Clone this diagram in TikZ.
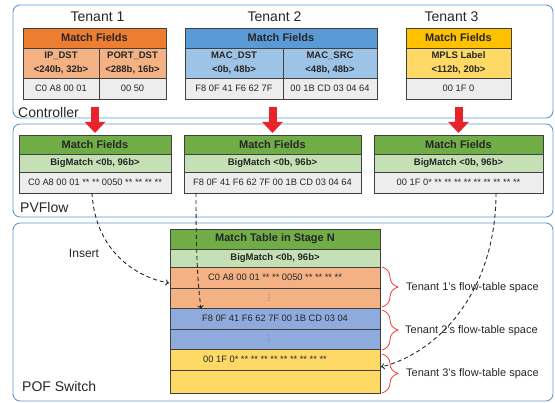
\documentclass[tikz,border=0pt]{standalone}
\usepackage{fontspec}
\setmainfont{Liberation Sans}
\newfontfamily\dotsfam{DejaVu Sans}
\usetikzlibrary{arrows.meta,decorations.pathreplacing}
\definecolor{contc}{HTML}{5B9BD5}
\definecolor{cellb}{HTML}{404040}
\definecolor{txt}{HTML}{262626}
\definecolor{orH}{HTML}{ED7D31}
\definecolor{orL}{HTML}{F4B183}
\definecolor{blH}{HTML}{5B9BD5}
\definecolor{blL}{HTML}{9DC3E6}
\definecolor{blR}{HTML}{8FAADC}
\definecolor{yeH}{HTML}{FFC000}
\definecolor{yeL}{HTML}{FFD966}
\definecolor{grH}{HTML}{70AD47}
\definecolor{grL}{HTML}{C5E0B4}
\definecolor{valc}{HTML}{EDEDED}
\definecolor{redA}{HTML}{E8242A}
\definecolor{braceC}{HTML}{F03C3C}
\begin{document}
\begin{tikzpicture}[x=1pt,y=-1pt,
  container/.style={draw=contc, line width=0.9pt, rounded corners=7pt},
  cell/.style={draw=cellb, line width=0.7pt, inner sep=0pt, outer sep=0pt, anchor=north west, text=txt, align=center},
  hdr/.style={cell, font=\fontsize{11}{13}\selectfont\bfseries},
  fld/.style={cell, font=\fontsize{9.5}{13.5}\selectfont\bfseries},
  bigm/.style={cell, font=\fontsize{9.5}{11}\selectfont\bfseries},
  val/.style={cell, fill=valc, font=\fontsize{9.3}{11}\selectfont},
  row/.style={cell, font=\fontsize{9.3}{11}\selectfont},
  dotrow/.style={cell, text=black!55, font=\dotsfam\fontsize{8}{9}\selectfont},
  biglabel/.style={text=txt, font=\fontsize{14}{16}\selectfont, inner sep=0pt},
  sidelabel/.style={text=txt, font=\fontsize{11}{13}\selectfont, inner sep=0pt, anchor=west},
  redarrow/.style={draw=redA, line width=8pt, -{Triangle[width=20pt,length=11pt]}},
  dasharrow/.style={draw=txt, line width=0.9pt, dash pattern=on 4pt off 3pt, -{To[length=3.5pt,width=6pt]}},
  bracestyle/.style={draw=braceC, line width=0.8pt, decorate, decoration={brace, amplitude=16pt}}
]
\useasboundingbox (0,0) rectangle (555,403);

% containers
\draw[container] (13,5) rectangle (553,118);
\draw[container] (13,124) rectangle (553,217);
\draw[container] (13,223) rectangle (553,401);
\node[biglabel, anchor=west] (lctrl) at (18,112) {Controller};
\node[biglabel, anchor=west] (lpv) at (20,207) {PVFlow};
\node[biglabel, anchor=west] (lpof) at (22,386) {POF Switch};

% tenant labels
\node[biglabel] (ten1) at (97.5,17) {Tenant 1};
\node[biglabel] (ten2) at (274.5,17) {Tenant 2};
\node[biglabel] (ten3) at (451.5,17) {Tenant 3};

% Tenant 1 table
\node[hdr, fill=orH, minimum width=143pt, minimum height=20pt] (t1h) at (23,28) {Match Fields};
\node[fld, fill=orL, minimum width=76pt, minimum height=30pt] (t1a) at (23,48) {IP\_DST\\<240b, 32b>};
\node[fld, fill=orL, minimum width=67pt, minimum height=30pt] (t1b) at (99,48) {PORT\_DST\\<288b, 16b>};
\node[val, minimum width=76pt, minimum height=21pt] (t1c) at (23,78) {C0 A8 00 01};
\node[val, minimum width=67pt, minimum height=21pt] (t1d) at (99,78) {00 50};

% Tenant 2 table
\node[hdr, fill=blH, minimum width=192pt, minimum height=20pt] (t2h) at (185,28) {Match Fields};
\node[fld, fill=blL, minimum width=98pt, minimum height=30pt] (t2a) at (185,48) {MAC\_DST\\<0b, 48b>};
\node[fld, fill=blL, minimum width=94pt, minimum height=30pt] (t2b) at (283,48) {MAC\_SRC\\<48b, 48b>};
\node[val, minimum width=98pt, minimum height=21pt] (t2c) at (185,78) {F8 0F 41 F6 62 7F};
\node[val, minimum width=94pt, minimum height=21pt] (t2d) at (283,78) {00 1B CD 03 04 64};

% Tenant 3 table
\node[hdr, fill=yeH, minimum width=105pt, minimum height=20pt] (t3h) at (406,28) {Match Fields};
\node[fld, fill=yeL, minimum width=105pt, minimum height=30pt] (t3a) at (406,48) {MPLS Label\\<112b, 20b>};
\node[val, minimum width=105pt, minimum height=21pt] (t3c) at (406,78) {00 1F 0};

% PVFlow tables
\node[hdr, fill=grH, minimum width=152pt, minimum height=19pt] (p1h) at (19,135) {Match Fields};
\node[bigm, fill=grL, minimum width=152pt, minimum height=18pt] (p1b) at (19,154) {BigMatch <0b, 96b>};
\node[val, minimum width=152pt, minimum height=21pt] (p1c) at (19,172) {C0 A8 00 01 ** ** 0050 ** ** ** **};

\node[hdr, fill=grH, minimum width=177pt, minimum height=19pt] (p2h) at (184,135) {Match Fields};
\node[bigm, fill=grL, minimum width=177pt, minimum height=18pt] (p2b) at (184,154) {BigMatch <0b, 96b>};
\node[val, minimum width=177pt, minimum height=21pt] (p2c) at (184,172) {F8 0F 41 F6 62 7F 00 1B CD 03 04 64};

\node[hdr, fill=grH, minimum width=169pt, minimum height=19pt] (p3h) at (374,135) {Match Fields};
\node[bigm, fill=grL, minimum width=169pt, minimum height=18pt] (p3b) at (374,154) {BigMatch <0b, 96b>};
\node[val, minimum width=169pt, minimum height=21pt] (p3c) at (374,172) {00 1F 0* ** ** ** ** ** ** ** ** **};

% red arrows
\coordinate (r1) at (95,107);
\coordinate (r2) at (272.5,107);
\coordinate (r3) at (458.5,107);
\draw[redarrow, shorten >=2pt] (r1) -- (p1h.north);
\draw[redarrow, shorten >=2pt] (r2) -- (p2h.north);
\draw[redarrow, shorten >=2pt] (r3) -- (p3h.north);

% POF match table
\node[hdr, fill=grH, minimum width=210pt, minimum height=20pt] (mh) at (170,229) {Match Table in Stage N};
\node[bigm, fill=grL, minimum width=210pt, minimum height=18pt] (mb) at (170,249) {BigMatch <0b, 96b>};
\node[row, fill=orL, minimum width=210pt, minimum height=21pt] (o1) at (170,267) {C0 A8 00 01 ** ** 0050 ** ** ** **};
\node[dotrow, fill=orL, minimum width=210pt, minimum height=20pt] (o2) at (170,288) {\hspace*{-12pt}⋮};
\node[row, fill=blR, minimum width=210pt, minimum height=21pt] (b1) at (170,308) {F8 0F 41 F6 62 7F 00 1B CD 03 04};
\node[dotrow, fill=blR, minimum width=210pt, minimum height=20pt] (b2) at (170,329) {\hspace*{-12pt}⋮};
\node[row, fill=yeL, minimum width=210pt, minimum height=21pt] (y1) at (170,349) {\hspace*{-20pt}00 1F 0* ** ** ** ** ** ** ** ** **};
\node[row, fill=yeL, minimum width=210pt, minimum height=23pt] (y2) at (170,370) {};

% braces
\coordinate (bA1) at (382,267);
\coordinate (bA2) at (382,307);
\coordinate (bB1) at (382,310);
\coordinate (bB2) at (382,350);
\coordinate (bC1) at (382,354);
\coordinate (bC2) at (382,393);
\draw[bracestyle] (bA1) -- (bA2);
\draw[bracestyle] (bB1) -- (bB2);
\draw[bracestyle] (bC1) -- (bC2);
\node[sidelabel] (s1) at (406,288) {Tenant 1’s flow-table space};
\node[sidelabel] (s2) at (405,331) {Tenant 2’s flow-table space};
\node[sidelabel] (s3) at (406,374) {Tenant 3’s flow-table space};

% dashed insert arrows
\coordinate (d1s) at (92,193);
\coordinate (d1e) at (169,283);
\coordinate (d2s) at (196,193);
\coordinate (d2e) at (201,309);
\coordinate (d3s) at (496,193);
\coordinate (d3e) at (381,367);
\draw[dasharrow] (d1s) .. controls (95,250) and (135,277) .. (d1e);
\draw[dasharrow] (d2s) .. controls (196,260) and (198,285) .. (d2e);
\draw[dasharrow] (d3s) .. controls (496,290) and (440,352) .. (d3e);
\node[text=txt, font=\fontsize{12}{14}\selectfont, inner sep=0pt] (ins) at (84,253) {Insert};
\end{tikzpicture}
\end{document}
